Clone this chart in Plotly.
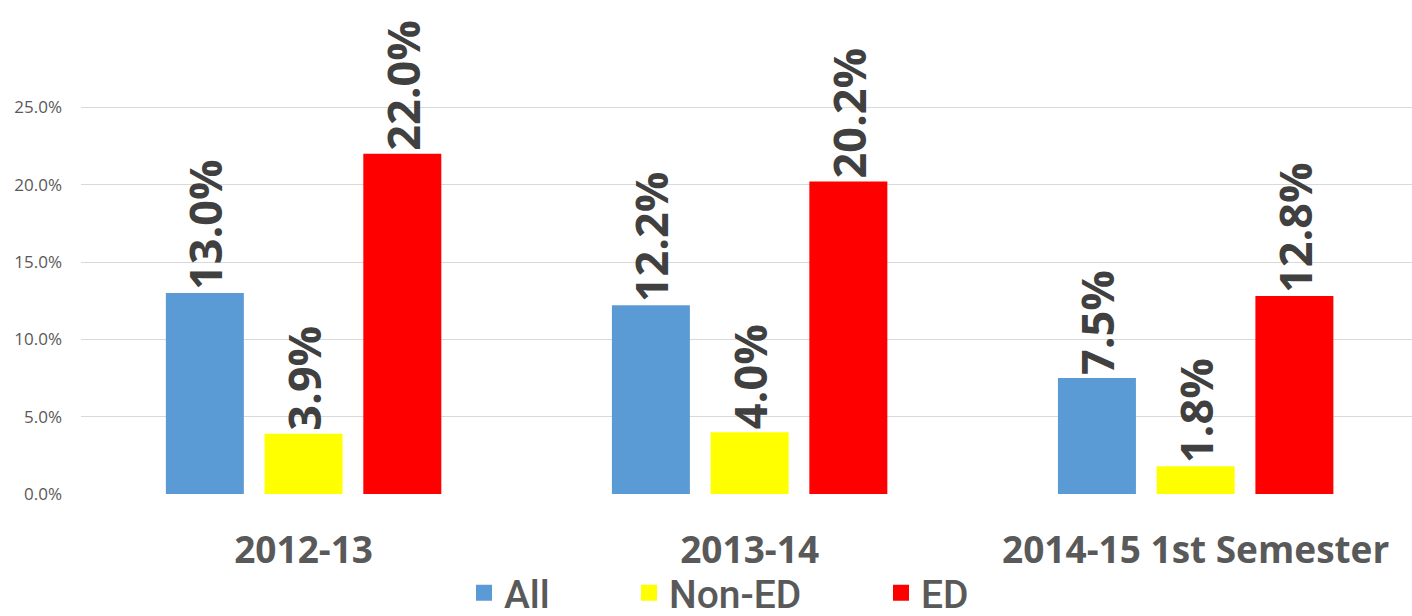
import plotly.graph_objects as go

categories = ["2012-13", "2013-14", "2014-15 1st Semester"]
series_names = ["All", "Non-ED", "ED"]
all_vals = [13.0, 12.2, 7.5]
nonED_vals = [3.9, 4.0, 1.8]
ED_vals = [22.0, 20.2, 12.8]
colors = ["#5B9BD5", "#FFFF00", "#FF0000"]
y_ticks = [0, 5, 10, 15, 20, 25]
y_tick_text = ["0.0%", "5.0%", "10.0%", "15.0%", "20.0%", "25.0%"]
legend_ids = ["legend", "legend2", "legend3"]
legend_x_px = [464, 629, 881]

fig = go.Figure()
for name, vals, col in zip(series_names, [all_vals, nonED_vals, ED_vals], colors):
    fig.add_trace(go.Bar(
        x=categories, y=vals, name=name, marker=dict(color=col, line=dict(width=0)),
        texttemplate="%{y:.1f}%\u00a0", textposition="outside", textangle=-90,
        textfont=dict(family="Open Sans", size=45, color="#404040", weight="bold"),
        constraintext="none", cliponaxis=False, showlegend=False,
    ))
for name, col, lid in zip(series_names, colors, legend_ids):
    fig.add_trace(go.Scatter(
        x=[None], y=[None], mode="markers", name=name, legend=lid,
        marker=dict(symbol="square", size=22, color=col, line=dict(width=0)),
    ))

legend_font = dict(family="Roboto", size=39, color="#595959", weight=500)
legend_common = dict(
    orientation="h", xref="container", yref="container",
    xanchor="left", y=0.0375, yanchor="middle",
    font=legend_font, itemwidth=30, bgcolor="rgba(0,0,0,0)", borderwidth=0,
)

fig.update_layout(
    width=1412, height=616,
    margin=dict(l=81, r=0, t=30, b=122),
    paper_bgcolor="white", plot_bgcolor="white",
    barmode="group", bargap=0.336, bargroupgap=0.21,
    showlegend=True,
    legend=dict(x=legend_x_px[0] / 1412, **legend_common),
    legend2=dict(x=legend_x_px[1] / 1412, **legend_common),
    legend3=dict(x=legend_x_px[2] / 1412, **legend_common),
    xaxis=dict(
        type="category", range=[-0.499, 2.485], showgrid=False, showline=False,
        ticks="", ticklabelstandoff=31, automargin=False,
        tickfont=dict(family="Open Sans", size=37, color="#595959", weight="bold"),
    ),
    yaxis=dict(
        range=[0, 30], tickvals=y_ticks, ticktext=y_tick_text,
        showgrid=True, gridcolor="#D9D9D9", gridwidth=1.3, zeroline=False,
        showline=False, ticks="", ticklabelstandoff=18, automargin=False,
        tickfont=dict(family="Open Sans", size=17, color="#595959"),
    ),
)

fig.write_html("out.html", config={"displayModeBar": False},
               post_script="document.body.style.margin='0';")
